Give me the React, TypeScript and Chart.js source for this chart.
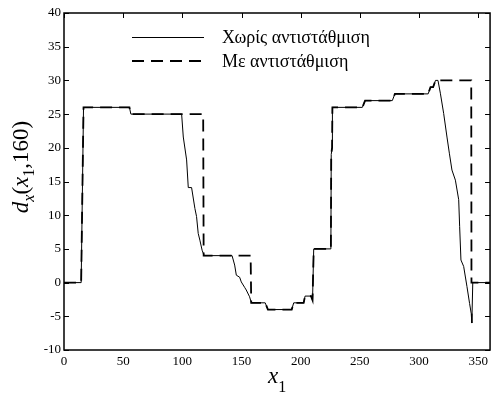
import React, { useEffect, useRef } from "react";
import { Chart, registerables } from "chart.js";

Chart.register(...registerables);

// Solid series: "Χωρίς αντιστάθμιση"
const solidX = [0, 14.5, 16.5, 55.3, 56.5, 99.4, 100.8, 103.6, 105, 107.8, 110.6, 112, 113.4, 114.8, 116.7, 118.4, 142, 144.2, 145.6, 148.4, 149.8, 152.6, 154, 156.8, 158.3, 170, 172.3, 192.4, 194.1, 202.5, 203.7, 208.7, 210, 211, 225.5, 225.8, 226.5, 226.8, 252.1, 254.4, 277.4, 279.6, 307.7, 309.7, 311.9, 313.9, 316, 318, 320.8, 323.6, 325.6, 327.8, 330.7, 333.5, 334.3, 335.4, 337.7, 340.5, 342.7, 344.1, 344.6, 345.4, 360];
const solidY = [0, 0, 26, 26, 25, 25, 21.6, 18.2, 14.1, 14.1, 11, 9.8, 7.3, 6.3, 4.8, 4, 4, 2.6, 1.1, 0.8, 0.1, -0.7, -1.1, -2.1, -3, -3, -4, -4, -3, -3, -2, -2, -2.6, 5, 5, 19, 20, 26, 26, 27, 27, 28, 28, 29, 29, 30, 30, 28.1, 25.1, 21.6, 19.2, 16.7, 15.2, 12.3, 8.3, 3.35, 2.4, -0.6, -3.1, -4.6, -6, 0, 0];

// Dashed series: "Με αντιστάθμιση"
const dashedX = [0, 14.5, 16.5, 55.3, 56.5, 117.6, 118, 157.7, 158.2, 170, 172.3, 192.4, 194.1, 202.5, 203.7, 208.7, 210, 211, 225.5, 225.8, 226.5, 226.8, 252.1, 254.4, 277.4, 279.6, 307.7, 309.7, 311.9, 313.9, 344.1, 344.3, 360];
const dashedY = [0, 0, 26, 26, 25, 25, 4, 4, -3, -3, -4, -4, -3, -3, -2, -2, -2.6, 5, 5, 19, 20, 26, 26, 27, 27, 28, 28, 29, 29, 30, 30, 0, 0];

const xTicks = [0, 50, 100, 150, 200, 250, 300, 350];
const yTicks = [-10, -5, 0, 5, 10, 15, 20, 25, 30, 35, 40];
const seriesNames = ["Χωρίς αντιστάθμιση", "Με αντιστάθμιση"];

const SERIF = '"Liberation Serif", "Times New Roman", serif';

const toPoints = (xs: number[], ys: number[]) => xs.map((x, i) => ({ x, y: ys[i] }));

const decor = {
  id: "decor",
  afterDraw(chart: any) {
    const { ctx, chartArea: a, scales } = chart;
    ctx.save();
    ctx.strokeStyle = "#000";
    ctx.fillStyle = "#000";
    // frame
    ctx.lineWidth = 1.5;
    ctx.setLineDash([]);
    ctx.strokeRect(a.left, a.top, a.right - a.left, a.bottom - a.top);
    // inward ticks
    ctx.lineWidth = 1;
    ctx.beginPath();
    xTicks.forEach((v) => {
      const px = Math.round(scales.x.getPixelForValue(v)) + 0.5;
      ctx.moveTo(px, a.top);
      ctx.lineTo(px, a.top + 5);
    });
    yTicks.forEach((v) => {
      const py = Math.round(scales.y.getPixelForValue(v)) + 0.5;
      ctx.moveTo(a.left, py);
      ctx.lineTo(a.left + 5, py);
      ctx.moveTo(a.right - 5, py);
      ctx.lineTo(a.right, py);
    });
    ctx.stroke();

    // legend
    const lx0 = a.left + 68;
    const lx1 = a.left + 140;
    const tx = a.left + 158;
    ctx.font = `18px ${SERIF}`;
    ctx.textBaseline = "alphabetic";
    ctx.textAlign = "left";
    ctx.lineWidth = 1;
    ctx.beginPath();
    ctx.moveTo(lx0, a.top + 24.5);
    ctx.lineTo(lx1, a.top + 24.5);
    ctx.stroke();
    ctx.fillText(seriesNames[0], tx, a.top + 30);
    ctx.lineWidth = 1.8;
    ctx.setLineDash([12, 7]);
    ctx.beginPath();
    ctx.moveTo(lx0, a.top + 48);
    ctx.lineTo(lx1 + 2, a.top + 48);
    ctx.stroke();
    ctx.setLineDash([]);
    ctx.fillText(seriesNames[1], tx, a.top + 54);

    // x-axis title: x₁
    const segsX: [string, string, number][] = [
      ["x", `italic 23px ${SERIF}`, 0],
      ["1", `16px ${SERIF}`, 9],
    ];
    let wX = 0;
    segsX.forEach(([t, f]) => { ctx.font = f; wX += ctx.measureText(t).width; });
    let cx = (a.left + a.right) / 2 - wX / 2;
    const baseX = 383;
    segsX.forEach(([t, f, dy]) => {
      ctx.font = f;
      ctx.fillText(t, cx, baseX + dy);
      cx += ctx.measureText(t).width;
    });

    // y-axis title: d_x(x_1,160)
    const segsY: [string, string, number][] = [
      ["d", `italic 23px ${SERIF}`, 0],
      ["x", `italic 16px ${SERIF}`, 6],
      ["(", `23px ${SERIF}`, 0],
      ["x", `italic 23px ${SERIF}`, 0],
      ["1", `16px ${SERIF}`, 6],
      [",160)", `23px ${SERIF}`, 0],
    ];
    let wY = 0;
    segsY.forEach(([t, f]) => { ctx.font = f; wY += ctx.measureText(t).width; });
    ctx.translate(28, 167);
    ctx.rotate(-Math.PI / 2);
    let cy = -wY / 2;
    segsY.forEach(([t, f, dy]) => {
      ctx.font = f;
      ctx.fillText(t, cy, dy);
      cy += ctx.measureText(t).width;
    });
    ctx.restore();
  },
};

export default function App() {
  const ref = useRef<HTMLCanvasElement | null>(null);
  useEffect(() => {
    if (!ref.current) return;
    const chart = new Chart(ref.current, {
      type: "scatter",
      data: {
        datasets: [
          {
            label: seriesNames[1],
            data: toPoints(dashedX, dashedY),
            showLine: true,
            borderColor: "#000",
            borderWidth: 1.8,
            borderDash: [12, 7],
            pointRadius: 0,
            tension: 0,
            fill: false,
            order: 0,
          },
          {
            label: seriesNames[0],
            data: toPoints(solidX, solidY),
            showLine: true,
            borderColor: "#000",
            borderWidth: 1,
            pointRadius: 0,
            tension: 0,
            fill: false,
            order: 1,
          },
        ],
      },
      options: {
        responsive: false,
        animation: false,
        events: [],
        layout: { padding: { top: 13, right: 1, left: 0, bottom: 0 } },
        plugins: { legend: { display: false }, tooltip: { enabled: false } },
        scales: {
          x: {
            type: "linear",
            min: 0,
            max: 360,
            grid: { display: false, drawTicks: false },
            border: { display: false },
            afterBuildTicks: (s: any) => { s.ticks = xTicks.map((v) => ({ value: v })); },
            afterFit: (s: any) => { s.height = 47; },
            ticks: {
              autoSkip: false,
              maxRotation: 0,
              padding: 4,
              color: "#000",
              font: { family: SERIF, size: 13 },
            },
          },
          y: {
            type: "linear",
            min: -10,
            max: 40,
            grid: { display: false, drawTicks: false },
            border: { display: false },
            afterBuildTicks: (s: any) => { s.ticks = yTicks.map((v) => ({ value: v })); },
            afterFit: (s: any) => { s.width = 64; },
            ticks: {
              autoSkip: false,
              padding: 3,
              color: "#000",
              font: { family: SERIF, size: 13 },
            },
          },
        },
      },
      plugins: [decor],
    } as any);
    return () => chart.destroy();
  }, []);
  return (
    <div style={{ position: "absolute", left: 0, top: 0, width: 492, height: 397, background: "#fff" }}>
      <canvas ref={ref} width={492} height={397} style={{ display: "block" }} />
    </div>
  );
}
